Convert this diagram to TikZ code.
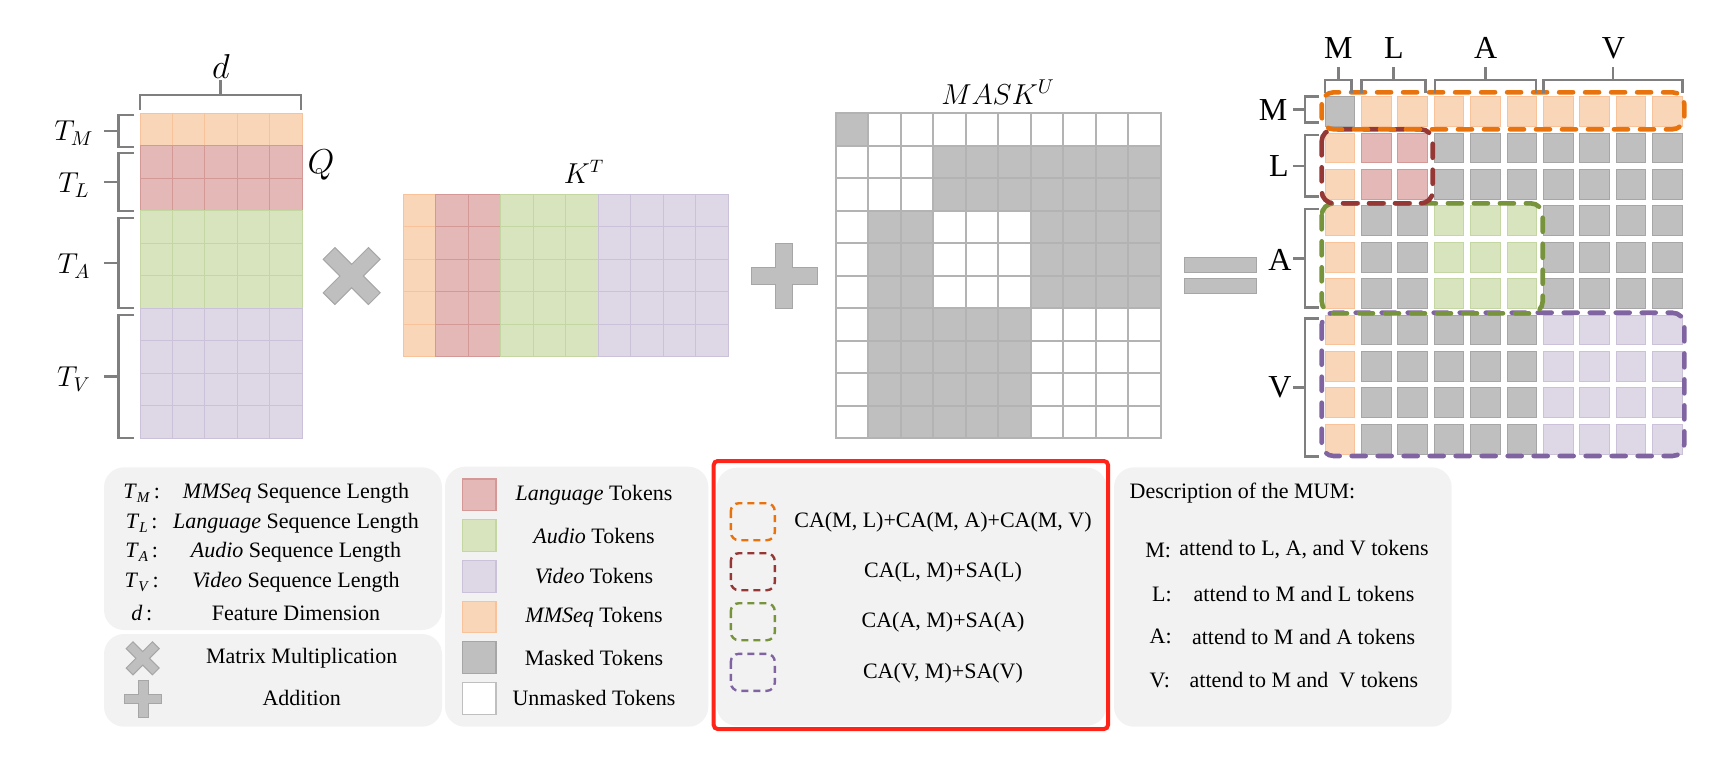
\documentclass[tikz,border=0pt]{standalone}
\usepackage{fontspec}
\setmainfont{Liberation Serif}
\definecolor{morange}{HTML}{FAD6B8}
\definecolor{Dmorange}{HTML}{F8C39A}
\definecolor{mred}{HTML}{E4B8B7}
\definecolor{Dmred}{HTML}{D49896}
\definecolor{mgreen}{HTML}{D7E4BD}
\definecolor{Dmgreen}{HTML}{C4D6A2}
\definecolor{mviolet}{HTML}{DDD7E6}
\definecolor{Dmviolet}{HTML}{CBC1D9}
\definecolor{mgray}{HTML}{BFBFBF}
\definecolor{Dmgray}{HTML}{A6A6A6}
\definecolor{mwhite}{HTML}{FFFFFF}
\definecolor{Dmwhite}{HTML}{BFBFBF}
\definecolor{bracegray}{HTML}{7F7F7F}
\definecolor{panel}{HTML}{F2F2F2}
\definecolor{dorange}{HTML}{E8720C}
\definecolor{dred}{HTML}{953735}
\definecolor{dgreen}{HTML}{77933C}
\definecolor{dviolet}{HTML}{8064A2}
\definecolor{framered}{HTML}{FF2417}
\newcommand\mybrv[5]{\draw[brace] (#1,#4) -- (#2,#4) -- (#2,#5) -- (#1,#5); \draw[brace] (#2,{(#4+#5)/2}) -- (#3,{(#4+#5)/2});}
\newcommand\mybrh[5]{\draw[brace] (#1,#4) -- (#1,#3) -- (#2,#3) -- (#2,#4); \draw[brace] ({(#1+#2)/2},#3) -- ({(#1+#2)/2},#5);}
\newcommand\plusshape[2]{(-#1,-#2) -- (-#2,-#2) -- (-#2,-#1) -- (#2,-#1) -- (#2,-#2) -- (#1,-#2) -- (#1,#2) -- (#2,#2) -- (#2,#1) -- (-#2,#1) -- (-#2,#2) -- (-#1,#2) -- cycle}
\newcommand\setgrp[1]{\ifcase#1\def\cc{morange}\or\def\cc{mred}\or\def\cc{mgreen}\or\def\cc{mviolet}\fi}
\tikzset{
  brace/.style={draw=bracegray, line width=1.35pt},
  opsym/.style={fill=mgray, draw=Dmgray, line width=0.5pt},
  panelbox/.style={fill=panel, draw=none, rounded corners=10pt},
  dashbox/.style={line width=2.3pt, dash pattern=on 7pt off 6pt, line cap=round, rounded corners=6pt},
  smalldash/.style={line width=1.2pt, dash pattern=on 3.5pt off 2.5pt, rounded corners=4pt},
  lgtext/.style={font=\fontsize{11}{13}\selectfont, inner sep=0pt},
  dstext/.style={font=\fontsize{11}{13}\selectfont, inner sep=0pt},
  mathlbl/.style={inner sep=0pt},
  axlbl/.style={font=\fontsize{16}{18}\selectfont, inner sep=0pt},
}
\begin{document}
\begin{tikzpicture}[x=0.5pt,y=-0.5pt]
\useasboundingbox (0,0) rectangle (1713,757);

% ---------- Q matrix ----------
\foreach \r/\cc in {0/morange,1/mred,2/mred,3/mgreen,4/mgreen,5/mgreen,6/mviolet,7/mviolet,8/mviolet,9/mviolet}
  \foreach \k in {0,...,4}
    \draw[fill=\cc, draw=D\cc, line width=0.5pt] ({140+32.4*\k},{113.3+32.5*\r}) rectangle ++(32.4,32.5);
\mybrh{140}{301}{95}{110}{80}
\node[mathlbl, font=\fontsize{16}{18}\selectfont] (qd) at (221,66) {$d$};
\node[mathlbl, font=\fontsize{16}{18}\selectfont] (qQ) at (321,165) {$Q$};
\mybrv{134}{118.3}{104}{115}{147}
\mybrv{134}{118.3}{104}{153}{211}
\mybrv{134}{118.3}{104}{218}{308}
\mybrv{134}{118.3}{104}{315}{438}
\node[mathlbl, font=\fontsize{14}{16}\selectfont] (tm) at (74,133) {$T_M$};
\node[mathlbl, font=\fontsize{14}{16}\selectfont] (tl) at (74,185) {$T_L$};
\node[mathlbl, font=\fontsize{14}{16}\selectfont] (ta) at (74,266) {$T_A$};
\node[mathlbl, font=\fontsize{14}{16}\selectfont] (tv) at (74,379) {$T_V$};

% ---------- times ----------
\draw[opsym, shift={(351.7,276)}, rotate=45] \plusshape{32}{8.3};

% ---------- K^T ----------
\foreach \k/\cc in {0/morange,1/mred,2/mred,3/mgreen,4/mgreen,5/mgreen,6/mviolet,7/mviolet,8/mviolet,9/mviolet}
  \foreach \r in {0,...,4}
    \draw[fill=\cc, draw=D\cc, line width=0.5pt] ({403.3+32.5*\k},{194.3+32.5*\r}) rectangle ++(32.5,32.5);
\node[mathlbl, font=\fontsize{13.5}{16}\selectfont] (kt) at (584,172) {$K^T$};

% ---------- plus ----------
\draw[opsym, shift={(784.3,276)}] \plusshape{32.7}{8.4};

% ---------- MASK ----------
\foreach \r in {0,...,9}
  \foreach \k in {0,...,9} {
    \pgfmathtruncatemacro\g{(\r==0 && \k==0) || (\r>=1 && \r<=2 && \k>=3) || (\r>=3 && \r<=5 && ((\k>=1 && \k<=2) || \k>=6)) || (\r>=6 && \k>=1 && \k<=5)}
    \ifnum\g=1 \def\cc{mgray}\else\def\cc{mwhite}\fi
    \draw[fill=\cc, draw=Dmgray!85, line width=0.9pt] ({835.7+32.5*\k},{113.3+32.5*\r}) rectangle ++(32.5,32.5);
  }
\node[mathlbl, font=\fontsize{14.5}{17}\selectfont] (mk) at (998,92) {$MASK^U$};

% ---------- equals ----------
\draw[opsym] (1184.3,257.7) rectangle (1256,272.7);
\draw[opsym] (1184.3,278.3) rectangle (1256,293.3);

% ---------- result ----------
\foreach \r in {0,...,9}
  \foreach \k in {0,...,9} {
    \pgfmathtruncatemacro\g{(\r==0 && \k==0) || (\r>=1 && \r<=2 && \k>=3) || (\r>=3 && \r<=5 && ((\k>=1 && \k<=2) || \k>=6)) || (\r>=6 && \k>=1 && \k<=5)}
    \pgfmathtruncatemacro\grp{\r==0 ? 0 : (\k==0 ? 0 : (\k<=2 ? 1 : (\k<=5 ? 2 : 3)))}
    \setgrp{\grp}
    \ifnum\g=1 \def\cc{mgray}\fi
    \draw[fill=\cc, draw=D\cc, line width=0.5pt] ({1325+36.4*\k},{96.7+36.4*\r}) rectangle ++(29.7,29.7);
  }
\draw[dashbox, draw=dviolet] (1321.7,312.7) rectangle (1684.3,456);
\draw[dashbox, draw=dgreen] (1321.7,203.3) rectangle (1542.7,313.3);
\draw[dashbox, draw=dred] (1321.7,129.3) rectangle (1432.7,203.3);
\draw[dashbox, draw=dorange] (1321.7,92.3) rectangle (1684.3,129.3);
\mybrh{1325}{1351.7}{80}{93.3}{67.3}
\mybrh{1361.7}{1425.7}{80}{93.3}{67.3}
\mybrh{1435}{1536}{80}{93.3}{67.3}
\mybrh{1543.3}{1682.7}{80}{93.3}{67.3}
\node[axlbl] (cM) at (1338.3,48.3) {M};
\node[axlbl] (cL) at (1394,48.3) {L};
\node[axlbl] (cA) at (1485.7,48.3) {A};
\node[axlbl] (cV) at (1613.3,48.3) {V};
\mybrv{1319}{1305}{1293.3}{96.7}{122.7}
\mybrv{1319}{1305}{1293.3}{135}{196.7}
\mybrv{1319}{1305}{1293.3}{209}{307.3}
\mybrv{1319}{1305}{1293.3}{318.3}{456.7}
\node[axlbl] (rM) at (1273,110) {M};
\node[axlbl] (rL) at (1279,166) {L};
\node[axlbl] (rA) at (1280,260) {A};
\node[axlbl] (rV) at (1280,387) {V};

% ---------- panel 1 ----------
\fill[panelbox] (104,467.3) rectangle (442,630);
\node[lgtext] (l1a) at (141.7,493.3) {\textit{T}\raisebox{-0.4ex}{\fontsize{7.5}{8}\selectfont\textit{M}}\,:};
\node[lgtext] (l1b) at (141.7,523.3) {\textit{T}\raisebox{-0.4ex}{\fontsize{7.5}{8}\selectfont\textit{L}}\,:};
\node[lgtext] (l1c) at (141.7,552.7) {\textit{T}\raisebox{-0.4ex}{\fontsize{7.5}{8}\selectfont\textit{A}}\,:};
\node[lgtext] (l1d) at (141.7,582.7) {\textit{T}\raisebox{-0.4ex}{\fontsize{7.5}{8}\selectfont\textit{V}}\,:};
\node[lgtext] (l1e) at (141.7,613.3) {\textit{d}\,:};
\node[lgtext] (t1a) at (296,493.3) {\textit{MMSeq} Sequence Length};
\node[lgtext] (t1b) at (296,523.3) {\textit{Language} Sequence Length};
\node[lgtext] (t1c) at (296,552.7) {\textit{Audio} Sequence Length};
\node[lgtext] (t1d) at (296,582.7) {\textit{Video} Sequence Length};
\node[lgtext] (t1e) at (296,613.3) {Feature Dimension};

% ---------- panel 2 ----------
\fill[panelbox] (104,634) rectangle (442,726.7);
\draw[opsym, shift={(142.7,658.3)}, rotate=45, scale=0.58] \plusshape{32}{8.3};
\draw[opsym, shift={(143.3,699.2)}, scale=0.56] \plusshape{32.7}{8.4};
\node[lgtext] (t2a) at (301.7,658.3) {Matrix Multiplication};
\node[lgtext] (t2b) at (301.7,698.3) {Addition};

% ---------- panel 3 ----------
\fill[panelbox] (445,466.7) rectangle (708.3,726.7);
\foreach \i/\cc in {0/mred,1/mgreen,2/mviolet,3/morange,4/mgray,5/mwhite}
  \draw[fill=\cc, draw=D\cc, line width=0.6pt] (462.7,{479+40.7*\i}) rectangle ++(33.3,31.7);
\node[lgtext] (t3a) at (594,494.8) {\textit{Language} Tokens};
\node[lgtext] (t3b) at (594,535.5) {\textit{Audio} Tokens};
\node[lgtext] (t3c) at (594,576.2) {\textit{Video} Tokens};
\node[lgtext] (t3d) at (594,616.9) {\textit{MMSeq} Tokens};
\node[lgtext] (t3e) at (594,657.6) {Masked Tokens};
\node[lgtext] (t3f) at (594,698.3) {Unmasked Tokens};

% ---------- panel 4 (framed) ----------
\fill[panelbox] (716.7,467.7) rectangle (1106.7,725.7);
\draw[draw=framered, line width=2pt, rounded corners=2pt] (713.7,461) rectangle (1108,729);
\draw[smalldash, draw=dorange] (730.8,503.2) rectangle ++(44,37);
\draw[smalldash, draw=dred] (730.8,553.2) rectangle ++(44,37);
\draw[smalldash, draw=dgreen] (730.8,603.2) rectangle ++(44,37);
\draw[smalldash, draw=dviolet] (730.8,653.8) rectangle ++(44,37);
\node[lgtext] (t4a) at (943,521.7) {CA(M, L)+CA(M, A)+CA(M, V)};
\node[lgtext] (t4b) at (943,572.3) {CA(L, M)+SA(L)};
\node[lgtext] (t4c) at (943,621.7) {CA(A, M)+SA(A)};
\node[lgtext] (t4d) at (943,673.3) {CA(V, M)+SA(V)};

% ---------- panel 5 ----------
\fill[panelbox] (1114,467.3) rectangle (1451.7,726.7);
\node[dstext, anchor=west] (t5) at (1129.3,493.3) {Description of the MUM:};
\node[dstext, anchor=west] (d1l) at (1145,550) {M:};
\node[dstext, anchor=west] (d1t) at (1179,550) {attend to L, A, and V tokens};
\node[dstext, anchor=west] (d2l) at (1151.7,594.3) {L:};
\node[dstext, anchor=west] (d2t) at (1193.3,594.3) {attend to M and L tokens};
\node[dstext, anchor=west] (d3l) at (1149.3,636.7) {A:};
\node[dstext, anchor=west] (d3t) at (1191.7,636.7) {attend to M and A tokens};
\node[dstext, anchor=west] (d4l) at (1149.3,680) {V:};
\node[dstext, anchor=west] (d4t) at (1189.3,680) {attend to M and\ \ V tokens};
\end{tikzpicture}
\end{document}
